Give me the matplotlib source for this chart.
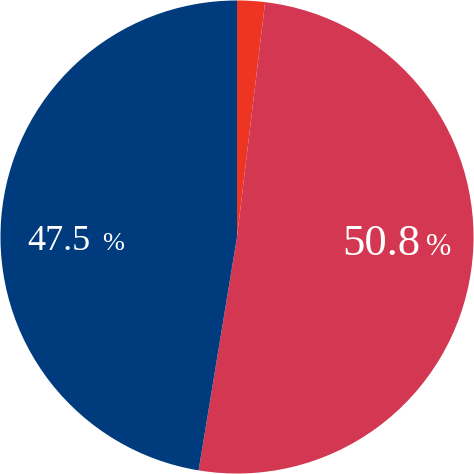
import matplotlib.pyplot as plt

labels = ['Other', 'Red', 'Blue']
values = [1.9, 50.8, 47.5]
colors = ['#EE3524', '#D43752', '#003C7D']

fig = plt.figure(figsize=(4.74, 4.74), dpi=100)
ax = fig.add_axes([0, 0, 1, 1])

ax.pie(values, colors=colors, startangle=90, counterclock=False, radius=1,
       wedgeprops=dict(linewidth=0))
ax.set_xlim(-1.002, 1.002)
ax.set_ylim(-1.002, 1.002)
ax.set_aspect('equal')
ax.axis('off')

# labels: number + smaller percent sign
font = ['Liberation Serif', 'DejaVu Serif', 'serif']
ax.text(-0.886, -0.055, f'{values[2]:.1f}', color='white', fontsize=26,
        family=font, ha='left', va='baseline')
ax.text(-0.57, -0.055, '%', color='white', fontsize=19,
        family=font, ha='left', va='baseline')

ax.text(0.447, -0.076, f'{values[1]:.1f}', color='white', fontsize=32,
        family=font, ha='left', va='baseline')
ax.text(0.797, -0.076, '%', color='white', fontsize=22,
        family=font, ha='left', va='baseline')

fig.savefig('out.png', dpi=100)
